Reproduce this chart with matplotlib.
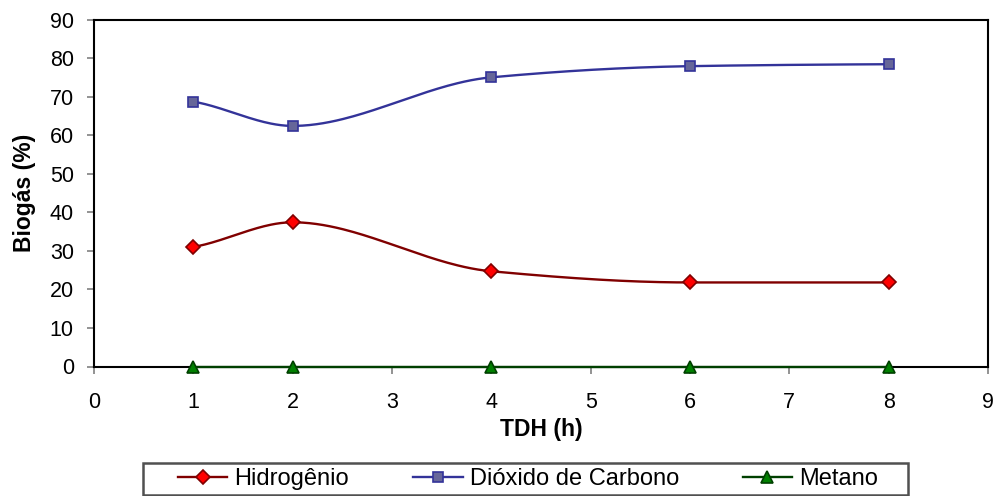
import numpy as np
import matplotlib
matplotlib.use("Agg")
import matplotlib.pyplot as plt
from matplotlib.lines import Line2D
from matplotlib.patches import Rectangle

plt.rcParams['font.family'] = ['Liberation Sans', 'DejaVu Sans']

tdh = [1, 2, 4, 6, 8]
hidrogenio = [31.0, 37.4, 24.7, 21.8, 21.8]
dioxido = [68.7, 62.4, 75.0, 77.9, 78.4]
metano = [0.0, 0.0, 0.0, 0.0, 0.0]

series_names = ["Hidrogênio", "Dióxido de Carbono", "Metano"]
x_ticks = list(range(0, 10))
y_ticks = list(range(0, 100, 10))


def smooth(xs, ys, n=60):
    """Shape-preserving (monotone) cubic Hermite curve through the points."""
    x = np.asarray(xs, float)
    y = np.asarray(ys, float)
    h = np.diff(x)
    d = np.diff(y) / h
    m = np.zeros_like(y)
    for k in range(1, len(x) - 1):
        if d[k - 1] * d[k] > 0:
            w1 = 2 * h[k] + h[k - 1]
            w2 = h[k] + 2 * h[k - 1]
            m[k] = (w1 + w2) / (w1 / d[k - 1] + w2 / d[k])
    m[0] = d[0] * 0.5 if len(d) > 1 and d[0] * d[1] > 0 else d[0] * 0.7
    m[-1] = d[-1] * 0.5
    xo, yo = [], []
    for k in range(len(x) - 1):
        t = np.linspace(0, 1, n)
        if k > 0:
            t = t[1:]
        h00 = 2 * t ** 3 - 3 * t ** 2 + 1
        h10 = t ** 3 - 2 * t ** 2 + t
        h01 = -2 * t ** 3 + 3 * t ** 2
        h11 = t ** 3 - t ** 2
        xo.append(x[k] + t * h[k])
        yo.append(h00 * y[k] + h10 * h[k] * m[k] + h01 * y[k + 1] + h11 * h[k] * m[k + 1])
    return np.concatenate(xo), np.concatenate(yo)


fig = plt.figure(figsize=(9.97, 4.96), dpi=100)
ax = fig.add_axes([94 / 997, 1 - 366.5 / 496, (988 - 94) / 997, (366.5 - 19.5) / 496])

styles = [
    dict(data=hidrogenio, line="#800000", face="#FF0000", edge="#800000", marker="D", ms=7.5),
    dict(data=dioxido, line="#333399", face="#666699", edge="#333399", marker="s", ms=7.5),
    dict(data=metano, line="#004000", face="#008000", edge="#004000", marker="^", ms=9),
]

handles = []
for name, st in zip(series_names, styles):
    sx, sy = smooth(tdh, st["data"])
    ax.plot(sx, sy, color=st["line"], lw=1.7, zorder=3, clip_on=False)
    ax.plot(tdh, st["data"], ls="none", marker=st["marker"], ms=st["ms"],
            mfc=st["face"], mec=st["edge"], mew=1.2, zorder=4, clip_on=False)
    handles.append(Line2D([], [], color=st["line"], lw=1.7, marker=st["marker"], ms=st["ms"],
                          mfc=st["face"], mec=st["edge"], mew=1.2))

ax.set_xlim(0, 9)
ax.set_ylim(0, 90)
ax.set_xticks(x_ticks)
ax.set_yticks(y_ticks)
ax.tick_params(direction="out", length=5, width=1.2, color="#808080", labelsize=15.5)
ax.tick_params(axis="x", pad=13)
ax.tick_params(axis="y", pad=9.5)
for sp in ax.spines.values():
    sp.set_color("black")
    sp.set_linewidth(1.5)

ax.set_xlabel("TDH (h)", fontsize=16.5, fontweight="bold")
ax.set_ylabel("Biogás (%)", fontsize=16.5, fontweight="bold")
ax.xaxis.set_label_coords(0.5, -(418 - 366.5) / 347)
ax.yaxis.set_label_coords((36 - 94) / 894, 0.5)

# legend box below the plot
fig.patches.append(Rectangle((143 / 997, 1 - 495 / 496), (908 - 143) / 997, 32 / 496,
                             transform=fig.transFigure, facecolor="white",
                             edgecolor="#505050", lw=1.8, zorder=1))
leg = fig.legend(handles, series_names, loc="center", bbox_to_anchor=(528 / 997, 1 - 479 / 496),
                 ncol=3, fontsize=17, frameon=False,
                 handlelength=2.1, handletextpad=0.3, columnspacing=2.7,
                 borderpad=0, borderaxespad=0)
leg.set_zorder(2)

fig.savefig("out.png", dpi=100)
